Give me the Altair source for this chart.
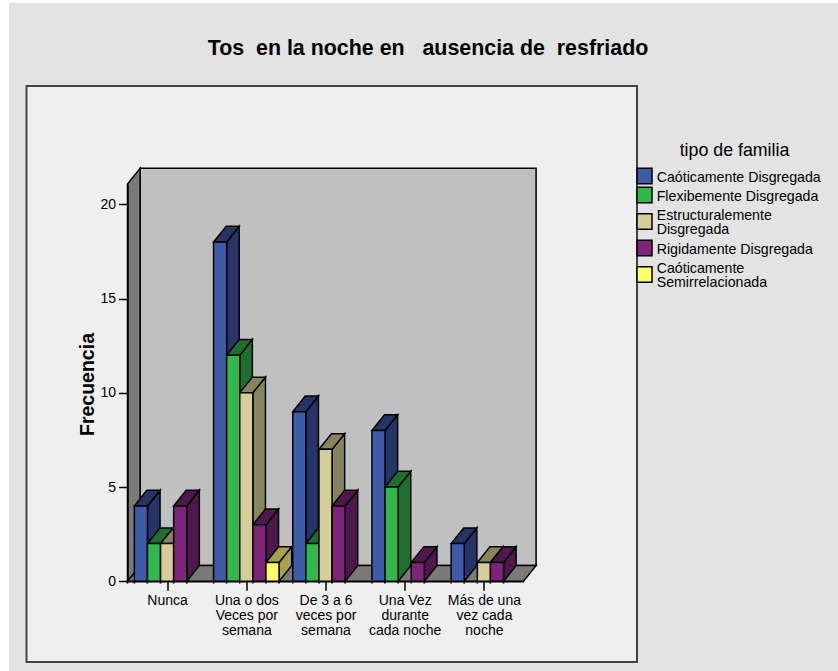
import json
import altair as alt
import pandas as pd

# Counts per category, one list per family type
categories = ["Nunca", "Una o dos|Veces por|semana", "De 3 a 6|veces por|semana",
              "Una Vez|durante|cada noche", "Más de una|vez cada|noche"]
series = ["Caóticamente Disgregada", "Flexibemente Disgregada", "Estructuralemente|Disgregada",
          "Rigidamente Disgregada", "Caóticamente|Semirrelacionada"]
caotica = [4, 18, 9, 8, 2]
flexible = [2, 12, 2, 5, 0]
estructural = [2, 10, 7, 0, 1]
rigida = [4, 3, 4, 1, 1]
semirrelacionada = [0, 1, 0, 0, 0]
counts = [caotica, flexible, estructural, rigida, semirrelacionada]
y_ticks = [0, 5, 10, 15, 20]

front_colors = ["#3f5aa9", "#2fb94c", "#d5cf97", "#7c2479", "#ffff66"]
shade_colors = ["#263568", "#1e702f", "#87855f", "#4e184d", "#a6a24a"]

# Extruded-box proportions, in data units
BAR_W = 0.1654
DEPTH_X = 0.159
DEPTH_Y = 0.833
Y_TOP = 21.08
MINOR_TICK = 0.12
N_CAT = len(categories)

# Plot rectangle inside the page (front plane of the box)
LEFT, TOP, PLOT_W, PLOT_H = 127.5, 184.0, 396.0, 397.3
PAGE_W, PAGE_H = 838, 671
FONT = "Liberation Sans"
LEGEND_LINE = 14
LEGEND_TEXT_SHIFT = 1.5

x_scale = alt.Scale(domain=[0, N_CAT], nice=False, zero=False)
y_scale = alt.Scale(domain=[0, Y_TOP], nice=False, zero=False)

sides, tops, fronts = [], [], []
edges = {0.0}
for s, name in enumerate(series):
    for c, v in enumerate(counts[s]):
        if v == 0:
            continue
        x0 = c + 0.5 + (s - 2.5) * BAR_W
        x1 = x0 + BAR_W
        bar = f"{s}-{c}"
        edges.update((round(x0, 4), round(x1, 4)))
        fronts.append(dict(serie=name, x0=x0, x1=x1, v=v))
        sides.append(dict(bar=bar, serie=name, x=x1, hi=v, lo=0))
        sides.append(dict(bar=bar, serie=name, x=x1 + DEPTH_X, hi=v + DEPTH_Y, lo=DEPTH_Y))
        tops.append(dict(bar=bar, serie=name, y=v, xa=x0, xb=x1))
        tops.append(dict(bar=bar, serie=name, y=v + DEPTH_Y, xa=x0 + DEPTH_X, xb=x1 + DEPTH_X))
sides, tops, fronts = map(pd.DataFrame, (sides, tops, fronts))
minor_ticks = pd.DataFrame({"x": sorted(edges), "lo": 0.0, "hi": -MINOR_TICK})


def X(field, axis=None):
    return alt.X(field, type="quantitative", scale=x_scale, axis=axis)


def Y(field, axis=None):
    return alt.Y(field, type="quantitative", scale=y_scale, axis=axis)


ONE_ROW = pd.DataFrame({"k": [0]})


def page_rect(x0, y0, x1, y1, **style):
    """Rectangle placed in page pixels."""
    return alt.Chart(ONE_ROW).mark_rect(**style).encode(
        x=alt.value(x0 - LEFT), x2=alt.value(x1 - LEFT),
        y=alt.value(y0 - TOP), y2=alt.value(y1 - TOP))


def page_text(x, y, text, **style):
    """Text placed in page pixels; '|' starts a new line."""
    return alt.Chart(ONE_ROW).mark_text(
        text=text, font=FONT, color="#000000", lineBreak="|", **style
    ).encode(x=alt.value(x - LEFT), y=alt.value(y - TOP))


shade_scale = alt.Scale(domain=series, range=shade_colors)
front_scale = alt.Scale(domain=series, range=front_colors)
EDGE = dict(stroke="#000000", strokeWidth=1.5)

backdrop = page_rect(9, 3, PAGE_W, PAGE_H, fill="#e3e3e3")
panel = page_rect(26.5, 86, 637, 662, fill="#efefef", stroke="#444444", strokeWidth=2)

back_wall = alt.Chart(pd.DataFrame({"a": [DEPTH_X], "b": [N_CAT + DEPTH_X], "l": [DEPTH_Y], "h": [Y_TOP + DEPTH_Y]})).mark_rect(
    fill="#c0c0c0", **EDGE).encode(x=X("a"), x2="b", y=Y("l"), y2="h")
left_wall = alt.Chart(pd.DataFrame({"x": [0, DEPTH_X], "l": [0, DEPTH_Y], "h": [Y_TOP, Y_TOP + DEPTH_Y]})).mark_area(
    fill="#7a7a7a", **EDGE).encode(x=X("x"), y=Y("l"), y2="h")
floor = alt.Chart(pd.DataFrame({"y": [0, DEPTH_Y], "a": [0, DEPTH_X], "b": [N_CAT, N_CAT + DEPTH_X]})).mark_area(
    orient="horizontal", fill="#7a7a7a", **EDGE).encode(y=Y("y"), x=X("a"), x2="b")

side_layer = alt.Chart(sides).mark_area(**EDGE).encode(
    x=X("x"), y=Y("hi"), y2="lo", detail="bar:N",
    fill=alt.Fill("serie:N", scale=shade_scale, legend=None))
top_layer = alt.Chart(tops).mark_area(orient="horizontal", **EDGE).encode(
    y=Y("y"), x=X("xa"), x2="xb", detail="bar:N",
    fill=alt.Fill("serie:N", scale=shade_scale, legend=None))
minor_layer = alt.Chart(minor_ticks).mark_rule(color="#000000", strokeWidth=1.5).encode(
    x=X("x"), y=Y("lo"), y2="hi")

x_axis = alt.Axis(
    values=[c + 0.5 for c in range(N_CAT)], title=None, grid=False, domainColor="#000000", domainWidth=1.5,
    tickColor="#000000", tickWidth=1.5, tickSize=9, labelPadding=3, labelFont=FONT, labelFontSize=14,
    labelColor="#000000", labelAngle=0, labelAlign="center", labelLineHeight=15, labelOverlap=False, labelLimit=200,
    labelExpr=f"split({json.dumps(categories, ensure_ascii=False)}[floor(datum.value)], '|')", zindex=1)
y_axis = alt.Axis(
    values=y_ticks, title="Frecuencia", grid=False, domainColor="#000000", domainWidth=1.5,
    tickColor="#000000", tickWidth=1.5, tickSize=9, labelPadding=3, labelFont=FONT, labelFontSize=14,
    labelColor="#000000", titleFont=FONT, titleFontSize=19.5, titleFontWeight="bold", titleColor="#000000",
    titleX=87 - LEFT, titleY=384 - TOP, titleAngle=270, titleAlign="center", titleBaseline="middle", zindex=1)

front_layer = alt.Chart(fronts).mark_rect(**EDGE).encode(
    x=X("x0", x_axis), x2="x1", y=Y("v", y_axis), y2=alt.Y2(datum=0),
    fill=alt.Fill("serie:N", scale=front_scale, legend=None))

# Hand-laid legend: rows holding two lines of text sit further apart
legend_layers = [page_text(734.5, 155.5, "tipo de familia", fontSize=17.8, align="center", baseline="alphabetic")]
row_centres = [176, 195, 221.5, 248, 274.5]
for name, colour, cy in zip(series, front_colors, row_centres):
    first_line = cy + LEGEND_TEXT_SHIFT - name.count("|") * LEGEND_LINE / 2
    legend_layers.append(page_rect(637, cy - 7.75, 652, cy + 7.75, fill=colour, **EDGE))
    legend_layers.append(page_text(656.7, first_line, name, fontSize=14.2, lineHeight=LEGEND_LINE,
                                   align="left", baseline="middle"))

chart = alt.layer(
    backdrop, panel, back_wall, left_wall, floor, side_layer, top_layer, minor_layer, front_layer, *legend_layers
).resolve_scale(fill="independent").resolve_axis(x="independent", y="independent").properties(
    width=PLOT_W, height=PLOT_H,
    padding={"left": LEFT, "top": TOP, "right": PAGE_W - LEFT - PLOT_W, "bottom": PAGE_H - TOP - PLOT_H},
    autosize=alt.AutoSizeParams(type="none"),
    background="#ffffff",
    title=alt.TitleParams(
        "Tos\u00a0 en la noche en\u00a0\u00a0 ausencia de\u00a0 resfriado",
        font=FONT, fontSize=21.4, fontWeight="bold", color="#000000",
        anchor="middle", frame="group", dx=102.5, offset=0, dy=56),
).configure_view(stroke=None)

chart.save("out.html", embed_options={"renderer": "svg", "actions": False})
